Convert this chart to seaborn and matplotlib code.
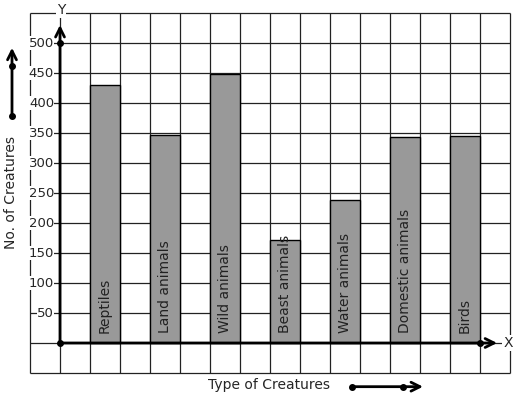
import numpy as np
import matplotlib
matplotlib.use('Agg')
import matplotlib.pyplot as plt
import seaborn as sns

# Chart data
creatures = ['Reptiles', 'Land animals', 'Wild animals', 'Beast animals',
             'Water animals', 'Domestic animals', 'Birds']
counts = [430, 346, 448, 171, 238, 343, 345]
y_ticks = [50, 100, 150, 200, 250, 300, 350, 400, 450, 500]

sns.set_style('white')
plt.rcParams['font.family'] = ['DejaVu Sans']

fig = plt.figure(figsize=(5.17, 3.99), dpi=100)
ax = fig.add_axes([0, 0, 1, 1])

# bars sit in every other grid cell, one cell wide
pos = np.arange(len(creatures)) * 2 + 1.5
sns.barplot(x=pos, y=counts, native_scale=True, width=0.5, color='#999999',
            saturation=1, edgecolor='black', linewidth=1, ax=ax, zorder=2)

# graph paper grid
ax.vlines(np.arange(-1, 16), -50, 550, color='#222222', lw=0.9, zorder=0)
ax.hlines(np.arange(-50, 551, 50), -1, 15, color='#222222', lw=0.9, zorder=0)

# axes with arrows
arrow = dict(arrowstyle='->', lw=2, color='black', mutation_scale=16, shrinkA=0, shrinkB=0)
ax.annotate('', xy=(0, 530), xytext=(0, 0), arrowprops=arrow, zorder=3)
ax.annotate('', xy=(14.57, 0), xytext=(0, 0), arrowprops=arrow, zorder=3)
ax.plot([0, 0, 14], [0, 500, 0], 'ko', ms=4, zorder=4)
ax.text(0.03, 555, 'Y', ha='center', va='center', fontsize=10,
        bbox=dict(facecolor='white', edgecolor='none', pad=0.5), zorder=3)
ax.text(14.77, 0, 'X', ha='left', va='center', fontsize=10,
        bbox=dict(facecolor='white', edgecolor='none', pad=0.5), zorder=3)

for v in y_ticks:
    ax.text(-0.2, v, str(v), ha='right', va='center', fontsize=9.5,
            bbox=dict(facecolor='white', edgecolor='none', pad=0.3), zorder=3)

for p, name in zip(pos, creatures):
    ax.text(p, 17, name, rotation=90, ha='center', va='bottom', fontsize=10,
            color='#222222', zorder=3)

# axis titles with little arrows
ax.text(-1.62, 251, 'No. of Creatures', rotation=90, ha='center', va='center', fontsize=10)
ax.annotate('', xy=(-1.6, 492), xytext=(-1.6, 378), arrowprops=arrow)
ax.plot([-1.6, -1.6], [378, 462], 'ko', ms=4)

ax.text(6.98, -70, 'Type of Creatures', ha='center', va='center', fontsize=10)
ax.annotate('', xy=(12.1, -72.8), xytext=(9.73, -72.8), arrowprops=arrow)
ax.plot([9.73, 11.43], [-72.8, -72.8], 'ko', ms=4)

ax.set_xlim(-2, 15.2333)
ax.set_ylim(-93.333, 571.667)
ax.axis('off')

fig.savefig('out.png', dpi=100, facecolor='white')
